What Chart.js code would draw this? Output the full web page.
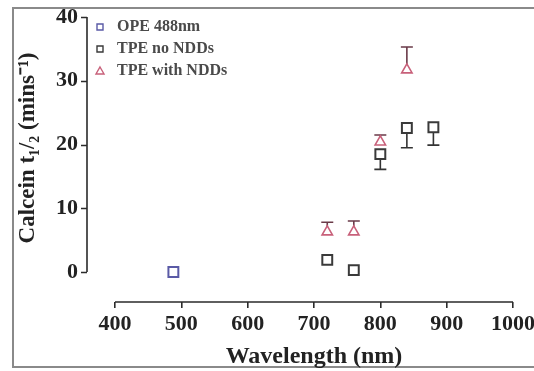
<!DOCTYPE html>
<html>
<head>
<meta charset="utf-8">
<script src="https://cdn.jsdelivr.net/npm/chart.js@4.4.0/dist/chart.umd.min.js"></script>
<style>
  html, body { margin: 0; padding: 0; background: #fff; }
  #wrap { position: relative; width: 534px; height: 371px; }
</style>
</head>
<body>
<div id="wrap"><canvas id="calcein"></canvas></div>
<script>
// ---- data ----
const opeWavelength = [488];
const opeHalfLife   = [0];

const tpeWavelength = [720, 760, 800, 840, 880];
const tpeHalfLife   = [1.9, 0.3, 18.5, 22.6, 22.7];
const tpeErrDown    = [0, 0, 2.4, 3.1, 2.8];

const nddWavelength = [720, 760, 800, 840];
const nddHalfLife   = [6.3, 6.3, 20.4, 31.7];
const nddErrUp      = [1.5, 1.7, 1.1, 3.6];

const xTickValues = [400, 500, 600, 700, 800, 900, 1000];
const yTickValues = [0, 10, 20, 30, 40];

const SERIF = "'Liberation Serif', 'Times New Roman', serif";
const AXIS = '#2b2b2b';
const Y_AXIS_GAP = 28;   // y axis sits left of the x range (prism offset axes)

const toPoints = (xs, ys) => xs.map((x, i) => ({ x, y: ys[i] }));

// error bars (drawn under the hollow markers)
const errorBars = {
  id: 'errorBars',
  beforeDatasetsDraw(chart) {
    const { ctx, scales: { x, y } } = chart;
    chart.data.datasets.forEach(ds => {
      if (!ds.errUp && !ds.errDown) return;
      ctx.save();
      ctx.strokeStyle = ds.errColor;
      ctx.lineWidth = 1.6;
      ds.data.forEach((p, i) => {
        const up = ds.errUp ? ds.errUp[i] : 0;
        const dn = ds.errDown ? ds.errDown[i] : 0;
        if (!up && !dn) return;
        const px = x.getPixelForValue(p.x);
        const top = y.getPixelForValue(p.y + up);
        const bot = y.getPixelForValue(p.y - dn);
        ctx.beginPath();
        ctx.moveTo(px, top); ctx.lineTo(px, bot);
        if (up) { ctx.moveTo(px - 6, top); ctx.lineTo(px + 6, top); }
        if (dn) { ctx.moveTo(px - 6, bot); ctx.lineTo(px + 6, bot); }
        ctx.stroke();
      });
      ctx.restore();
    });
  }
};

// detached axis lines + frame + legend
const decor = {
  id: 'decor',
  beforeDraw(chart) {
    const { ctx } = chart;
    ctx.save();
    ctx.fillStyle = '#fff';
    ctx.fillRect(0, 0, chart.width, chart.height);
    ctx.strokeStyle = '#8a8a8a';
    ctx.lineWidth = 2;
    ctx.strokeRect(13, 8, 522, 359);
    ctx.restore();
  },
  afterDraw(chart) {
    const { ctx, chartArea, scales: { x, y } } = chart;
    const ax = chartArea.left - Y_AXIS_GAP;
    ctx.save();
    ctx.strokeStyle = AXIS;
    ctx.lineWidth = 1.6;
    ctx.beginPath();
    ctx.moveTo(ax, y.getPixelForValue(yTickValues[0]));
    ctx.lineTo(ax, y.getPixelForValue(yTickValues.at(-1)));
    yTickValues.forEach(v => {
      const py = Math.round(y.getPixelForValue(v)) + 0.5;
      ctx.moveTo(ax - 6, py); ctx.lineTo(ax, py);
    });
    ctx.moveTo(x.getPixelForValue(xTickValues[0]), chartArea.bottom);
    ctx.lineTo(x.getPixelForValue(xTickValues.at(-1)), chartArea.bottom);
    ctx.stroke();

    // legend
    ctx.font = 'bold 16px ' + SERIF;
    ctx.textBaseline = 'middle';
    chart.data.datasets.forEach((ds, i) => {
      const ly = 27 + i * 22;
      ctx.strokeStyle = ds.borderColor;
      ctx.lineWidth = 1.4;
      ctx.beginPath();
      if (ds.pointStyle === 'triangle') {
        ctx.moveTo(100, ly - 4); ctx.lineTo(104, ly + 3); ctx.lineTo(96, ly + 3); ctx.closePath();
      } else {
        ctx.rect(97, ly - 3, 6, 6);
      }
      ctx.stroke();
      ctx.fillStyle = '#4a4a4a';
      ctx.fillText(ds.label, 117, ly);
    });
    ctx.restore();
  }
};

const tickFont = { family: SERIF, size: 22, weight: 'bold' };

new Chart(document.getElementById('calcein'), {
  type: 'scatter',
  data: {
    datasets: [
      { label: 'OPE 488nm', data: toPoints(opeWavelength, opeHalfLife),
        pointStyle: 'rect', pointRadius: 7, borderColor: '#5a5aa6', backgroundColor: '#fff', pointBorderWidth: 2 },
      { label: 'TPE no NDDs', data: toPoints(tpeWavelength, tpeHalfLife), errDown: tpeErrDown, errColor: '#333',
        pointStyle: 'rect', pointRadius: 7, borderColor: '#3a3a3a', backgroundColor: '#fff', pointBorderWidth: 2 },
      { label: 'TPE with NDDs', data: toPoints(nddWavelength, nddHalfLife), errUp: nddErrUp, errColor: '#6a3a48',
        pointStyle: 'triangle', pointRadius: 6, borderColor: '#c8607a', backgroundColor: '#fff', pointBorderWidth: 1.6 }
    ]
  },
  options: {
    responsive: true,
    maintainAspectRatio: false,
    animation: false,
    layout: { autoPadding: false, padding: { top: 17, right: 21, left: 0, bottom: 0 } },
    plugins: { legend: { display: false }, tooltip: { enabled: false } },
    scales: {
      x: {
        type: 'linear', min: 400, max: 1000,
        afterBuildTicks: s => { s.ticks = xTickValues.map(v => ({ value: v })); },
        afterFit: s => { s.height = 69; s.paddingLeft = 0; s.paddingRight = 0; },
        border: { display: false },
        grid: { drawOnChartArea: false, drawTicks: true, tickLength: 6, color: AXIS, lineWidth: 1.6 },
        ticks: { font: tickFont, color: '#222', padding: 3, maxRotation: 0, autoSkip: false,
                 callback: v => String(v) },
        title: { display: true, text: 'Wavelength (nm)', color: '#222',
                 font: { family: SERIF, size: 24, weight: 'bold' }, padding: { top: 0, bottom: 0 } }
      },
      y: {
        min: -4.7, max: 40,
        afterBuildTicks: s => { s.ticks = yTickValues.map(v => ({ value: v })); },
        afterFit: s => { s.width = 115; s.paddingTop = 0; s.paddingBottom = 0; },
        border: { display: false },
        grid: { display: false, drawTicks: false, tickLength: 0 },
        ticks: { font: tickFont, color: '#222', padding: Y_AXIS_GAP + 9 },
        title: { display: true, text: '    Calcein t₁/₂ (mins⁻¹)', color: '#222',
                 font: { family: SERIF, size: 23, weight: 'bold' }, padding: { top: 14, bottom: 0 } }
      }
    }
  },
  plugins: [errorBars, decor]
});
</script>
</body>
</html>
